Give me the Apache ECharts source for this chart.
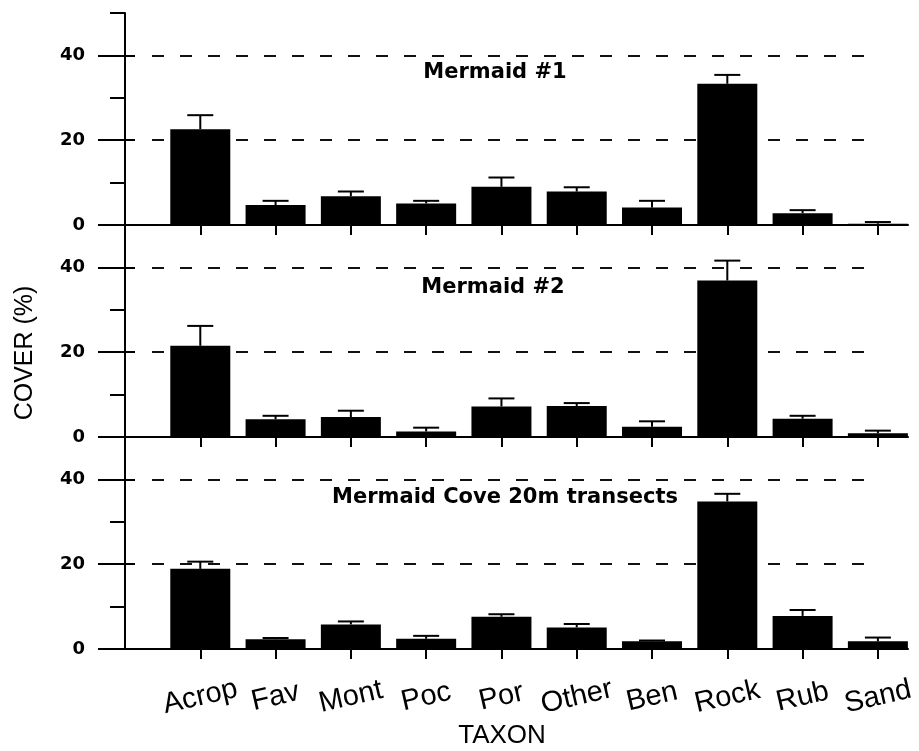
<!DOCTYPE html>
<html>
<head>
<meta charset="utf-8">
<script src="https://cdn.jsdelivr.net/npm/echarts@6/dist/echarts.min.js"></script>
<style>html,body{margin:0;padding:0;background:#fff;}#c{width:919px;height:751px;}</style>
</head>
<body>
<div id="c"></div>
<script>
// ---- data ----
const categories = ['Acrop','Fav','Mont','Poc','Por','Other','Ben','Rock','Rub','Sand'];
const panelTitles = ['Mermaid #1','Mermaid #2','Mermaid Cove 20m transects'];
const cover1 = [22.6, 4.7, 6.8, 5.1, 9.0, 7.9, 4.1, 33.3, 2.8, 0.3];
const err1   = [3.3, 1.0, 1.1, 0.6, 2.2, 1.0, 1.6, 2.1, 0.7, 0.4];
const cover2 = [21.5, 4.2, 4.7, 1.3, 7.2, 7.3, 2.4, 36.9, 4.3, 0.9];
const err2   = [4.7, 0.8, 1.5, 0.9, 1.9, 0.7, 1.3, 4.7, 0.7, 0.6];
const cover3 = [18.9, 2.3, 5.8, 2.4, 7.6, 5.1, 1.8, 34.8, 7.8, 1.8];
const err3   = [1.7, 0.3, 0.7, 0.7, 0.6, 0.8, 0.2, 1.8, 1.4, 0.9];
const yLabelValues = [0, 20, 40];
const yMinorTicks = [10, 30, 50];
const yAxisName = 'COVER (%)';
const xAxisName = 'TAXON';

const covers = [cover1, cover2, cover3];
const errs = [err1, err2, err3];

// ---- layout ----
const W = 919;
const plotLeft = 125, plotRight = 908;
const panelTop0 = 13, panelH = 212;
const dashLeft = 152, dashRight = 870;
const black = '#000';
const catPos = categories.map((c, i) => i + 1);

const grid = [], xAxis = [], yAxis = [], series = [], graphic = [];

for (let p = 0; p < 3; p++) {
  const top = panelTop0 + panelH * p;
  grid.push({left: plotLeft, right: W - plotRight, top: top, height: panelH, outerBoundsMode: 'none', containLabel: false});
  xAxis.push({
    gridIndex: p, type: 'value', min: 0, max: 10.4,
    axisLine: {show: true, onZero: false, lineStyle: {color: black, width: 2}},
    axisTick: {show: true, customValues: catPos, length: 10, lineStyle: {color: black, width: 2}},
    axisLabel: {
      show: p === 2, customValues: catPos,
      formatter: v => categories[Math.round(v) - 1] || '',
      rotate: 13, align: 'center', verticalAlign: 'middle', margin: 48,
      color: black, fontFamily: 'Liberation Sans', fontSize: 29
    },
    splitLine: {show: false}
  });
  // main y axis: line, minor ticks, labels
  yAxis.push({
    gridIndex: p, type: 'value', min: 0, max: 50, position: 'left',
    axisLine: {show: true, lineStyle: {color: black, width: 2}},
    axisTick: {show: true, customValues: yMinorTicks, length: 15, lineStyle: {color: black, width: 2}},
    axisLabel: {show: true, customValues: yLabelValues, margin: 40, color: black,
      fontFamily: 'DejaVu Sans', fontWeight: 'bold', fontSize: 18},
    splitLine: {show: false}
  });
  // major ticks outside
  yAxis.push({
    gridIndex: p, type: 'value', min: 0, max: 50, position: 'left', offset: 0,
    axisLine: {show: false},
    axisTick: {show: true, customValues: yLabelValues, length: 27, lineStyle: {color: black, width: 2}},
    axisLabel: {show: false}, splitLine: {show: false}
  });
  // major ticks inside
  yAxis.push({
    gridIndex: p, type: 'value', min: 0, max: 50, position: 'left', offset: 0,
    axisLine: {show: false},
    axisTick: {show: true, inside: true, customValues: yLabelValues, length: 10, lineStyle: {color: black, width: 2}},
    axisLabel: {show: false}, splitLine: {show: false}
  });
}
// dashed reference grids (span 0..40)
for (let p = 0; p < 3; p++) {
  const top = panelTop0 + panelH * p;
  const y40 = top + panelH * (10 / 50);
  grid.push({left: dashLeft, right: W - dashRight, top: y40, height: panelH * 40 / 50, outerBoundsMode: 'none', containLabel: false});
  xAxis.push({gridIndex: 3 + p, type: 'value', min: 0, max: 1, show: false});
  yAxis.push({
    gridIndex: 3 + p, type: 'value', min: 0, max: 40, interval: 20,
    axisLine: {show: false}, axisTick: {show: false}, axisLabel: {show: false},
    splitLine: {show: true, lineStyle: {color: '#111', width: 2, type: [12, 16]}}
  });
}
// series
for (let p = 0; p < 3; p++) {
  series.push({
    type: 'bar', xAxisIndex: p, yAxisIndex: 3 * p, barWidth: 60, z: 3,
    itemStyle: {color: black},
    data: covers[p].map((v, i) => [catPos[i], v]),
    silent: true, animation: false
  });
  series.push({
    type: 'custom', xAxisIndex: p, yAxisIndex: 3 * p, z: 4,
    data: covers[p].map((v, i) => [catPos[i], v, errs[p][i]]),
    renderItem: (params, api) => {
      const x = api.value(0), v = api.value(1), e = api.value(2);
      const a = api.coord([x, v]), b = api.coord([x, v + e]);
      return {type: 'group', children: [
        {type: 'line', shape: {x1: a[0], y1: a[1], x2: b[0], y2: b[1]}, style: {stroke: black, lineWidth: 2}},
        {type: 'line', shape: {x1: b[0] - 13, y1: b[1], x2: b[0] + 13, y2: b[1]}, style: {stroke: black, lineWidth: 2}}
      ]};
    },
    silent: true, animation: false
  });
}
// titles and axis names as text
const titleX = [495, 493, 505];
const titleDy = [60, 63, 61];
for (let p = 0; p < 3; p++) {
  graphic.push({type: 'text', x: titleX[p], y: panelTop0 + panelH * p + titleDy[p], z: 10,
    style: {text: panelTitles[p], fill: black, font: 'bold 21px "DejaVu Sans"', textAlign: 'center', textVerticalAlign: 'middle', verticalAlign: 'middle'}});
}
graphic.push({type: 'text', x: 25, y: 353, rotation: Math.PI / 2, z: 10,
  style: {text: yAxisName, fill: black, font: '25px "Liberation Sans"', textAlign: 'center', textVerticalAlign: 'middle', verticalAlign: 'middle'}});
graphic.push({type: 'text', x: 502, y: 736, z: 10,
  style: {text: xAxisName, fill: black, font: '26px "Liberation Sans"', textAlign: 'center', textVerticalAlign: 'middle', verticalAlign: 'middle'}});

const chart = echarts.init(document.getElementById('c'), null, {renderer: 'canvas'});
chart.setOption({
  backgroundColor: '#fff',
  animation: false,
  grid, xAxis, yAxis, series, graphic
});
</script>
</body>
</html>
